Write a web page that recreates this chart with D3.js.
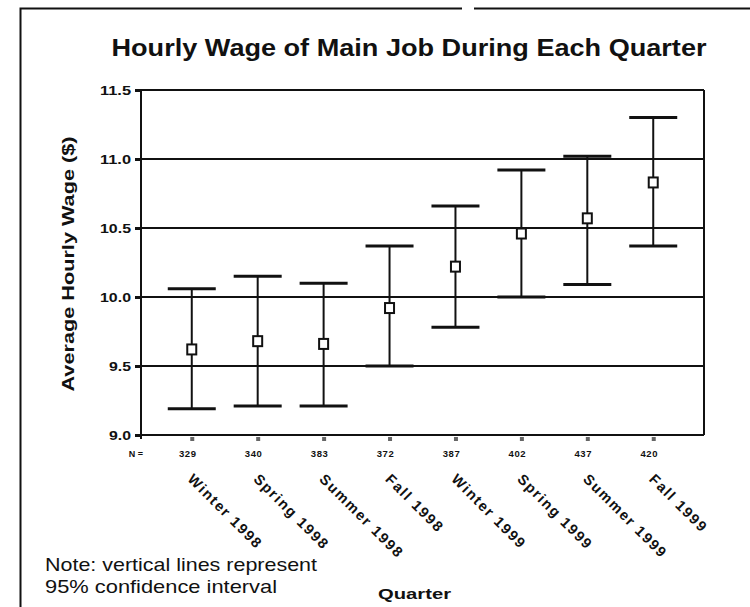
<!DOCTYPE html>
<html>
<head>
<meta charset="utf-8">
<script src="https://cdn.jsdelivr.net/npm/d3@7"></script>
<style>
    body { margin: 0; background: #fff; }
    svg { display: block; font-family: "Liberation Sans", Arial, sans-serif; }
</style>
</head>
<body>
<svg id="svgGraphs" width="750" height="607"></svg>
<script>
// data
var quarters = ["Winter 1998", "Spring 1998", "Summer 1998", "Fall 1998",
                "Winter 1999", "Spring 1999", "Summer 1999", "Fall 1999"]
var nCounts = [329, 340, 383, 372, 387, 402, 437, 420]
var means = [9.62, 9.68, 9.66, 9.92, 10.22, 10.46, 10.57, 10.83]
var lower = [9.19, 9.21, 9.21, 9.50, 9.78, 10.00, 10.09, 10.37]
var upper = [10.06, 10.15, 10.10, 10.37, 10.66, 10.92, 11.02, 11.30]
var yTicks = [9.0, 9.5, 10.0, 10.5, 11.0, 11.5]

function translate(x, y) {
    return "translate(" + x + "," + y + ")";
}

var svg = d3.select("#svgGraphs"),
    plot = { left: 141, right: 704, top: 90, bottom: 435 }

var x = d3.scalePoint()
    .domain(quarters)
    .range([plot.left, plot.right])
    .padding(0.77);

var y = d3.scaleLinear()
    .domain([9.0, 11.5])
    .range([plot.bottom, plot.top]);

// outer frame (top edge has a small gap like the scan)
svg.append("path")
    .attr("d", "M20.5,607V8.5H462M474,8.5H750")
    .attr("fill", "none")
    .attr("stroke", "#111")
    .attr("stroke-width", 2);

// title
svg.append("text")
    .attr("x", 409).attr("y", 56)
    .attr("text-anchor", "middle")
    .attr("font-size", 23).attr("font-weight", "bold")
    .attr("textLength", 595).attr("lengthAdjust", "spacingAndGlyphs")
    .attr("fill", "#111")
    .text("Hourly Wage of Main Job During Each Quarter");

// gridlines
svg.append("g").selectAll("line")
    .data(yTicks)
    .enter().append("line")
    .attr("x1", plot.left).attr("x2", plot.right)
    .attr("y1", d => y(d)).attr("y2", d => y(d))
    .attr("stroke", "#111")
    .attr("stroke-width", 2);

// right border
svg.append("line")
    .attr("x1", plot.right).attr("x2", plot.right)
    .attr("y1", plot.top).attr("y2", plot.bottom)
    .attr("stroke", "#111").attr("stroke-width", 2);

// y axis
var yAxis = svg.append("g")
    .attr("transform", translate(plot.left, 0))
    .call(d3.axisLeft(y).tickValues(yTicks).tickFormat(d3.format(".1f")).tickSize(6).tickPadding(4));
yAxis.select(".domain").attr("stroke", "#111").attr("stroke-width", 2)
    .attr("d", "M0," + plot.top + "V" + (plot.bottom + 4));
yAxis.selectAll(".tick line").attr("stroke", "#111").attr("stroke-width", 3);
yAxis.selectAll(".tick text")
    .attr("font-size", 13).attr("font-weight", "bold")
    .attr("fill", "#111")
    .attr("font-family", "Liberation Sans, Arial, sans-serif")
    .attr("textLength", d => d >= 10 ? 31 : 22)
    .attr("lengthAdjust", "spacingAndGlyphs");

// x axis with little tick marks
var xAxis = svg.append("g")
    .attr("transform", translate(0, plot.bottom))
    .call(d3.axisBottom(x).tickSize(6).tickFormat(""));
xAxis.select(".domain").attr("stroke", "#111").attr("stroke-width", 2)
    .attr("d", "M" + plot.left + ",0H" + plot.right);
xAxis.selectAll(".tick line")
    .attr("y1", 2)
    .attr("stroke", "#666").attr("stroke-width", 4);

// N row
svg.append("text")
    .attr("x", 136).attr("y", 457)
    .attr("text-anchor", "middle")
    .attr("font-size", 9).attr("font-weight", "bold").attr("fill", "#111")
    .text("N =");
svg.append("g").selectAll("text")
    .data(quarters)
    .enter().append("text")
    .attr("x", d => x(d) - 4).attr("y", 457)
    .attr("text-anchor", "middle")
    .attr("font-size", 9.5).attr("font-weight", "bold").attr("fill", "#111")
    .attr("letter-spacing", 0.6)
    .text((d, i) => nCounts[i]);

// rotated quarter labels
svg.append("g").selectAll("text")
    .data(quarters)
    .enter().append("text")
    .attr("transform", d => translate(x(d) - 5, 480) + " rotate(45)")
    .attr("font-size", 14.5).attr("font-weight", "bold").attr("fill", "#111")
    .attr("letter-spacing", 1.6)
    .text(d => d);

// error bars
var bars = svg.append("g").selectAll("g")
    .data(quarters)
    .enter().append("g")
    .attr("transform", d => translate(x(d), 0));

bars.append("line")
    .attr("y1", (d, i) => y(lower[i])).attr("y2", (d, i) => y(upper[i]))
    .attr("stroke", "#111").attr("stroke-width", 2);

bars.append("line")
    .attr("x1", -24).attr("x2", 24)
    .attr("y1", (d, i) => y(upper[i])).attr("y2", (d, i) => y(upper[i]))
    .attr("stroke", "#111").attr("stroke-width", 3);

bars.append("line")
    .attr("x1", -24).attr("x2", 24)
    .attr("y1", (d, i) => y(lower[i])).attr("y2", (d, i) => y(lower[i]))
    .attr("stroke", "#111").attr("stroke-width", 3);

bars.append("rect")
    .attr("x", -4.5).attr("width", 9)
    .attr("y", (d, i) => y(means[i]) - 5).attr("height", 10)
    .attr("fill", "#fff")
    .attr("stroke", "#111").attr("stroke-width", 2);

// y axis title
svg.append("text")
    .attr("transform", translate(74, 264) + " rotate(-90)")
    .attr("text-anchor", "middle")
    .attr("font-size", 16).attr("font-weight", "bold").attr("fill", "#111")
    .attr("textLength", 255).attr("lengthAdjust", "spacingAndGlyphs")
    .text("Average Hourly Wage ($)");

// x axis title
svg.append("text")
    .attr("x", 378).attr("y", 599)
    .attr("font-size", 15).attr("font-weight", "bold").attr("fill", "#111")
    .attr("textLength", 73).attr("lengthAdjust", "spacingAndGlyphs")
    .text("Quarter");

// note
svg.append("text")
    .attr("x", 45).attr("y", 571)
    .attr("font-size", 19).attr("fill", "#111")
    .attr("textLength", 272).attr("lengthAdjust", "spacingAndGlyphs")
    .text("Note: vertical lines represent");
svg.append("text")
    .attr("x", 45).attr("y", 593)
    .attr("font-size", 19).attr("fill", "#111")
    .attr("textLength", 232).attr("lengthAdjust", "spacingAndGlyphs")
    .text("95% confidence interval");
</script>
</body>
</html>
